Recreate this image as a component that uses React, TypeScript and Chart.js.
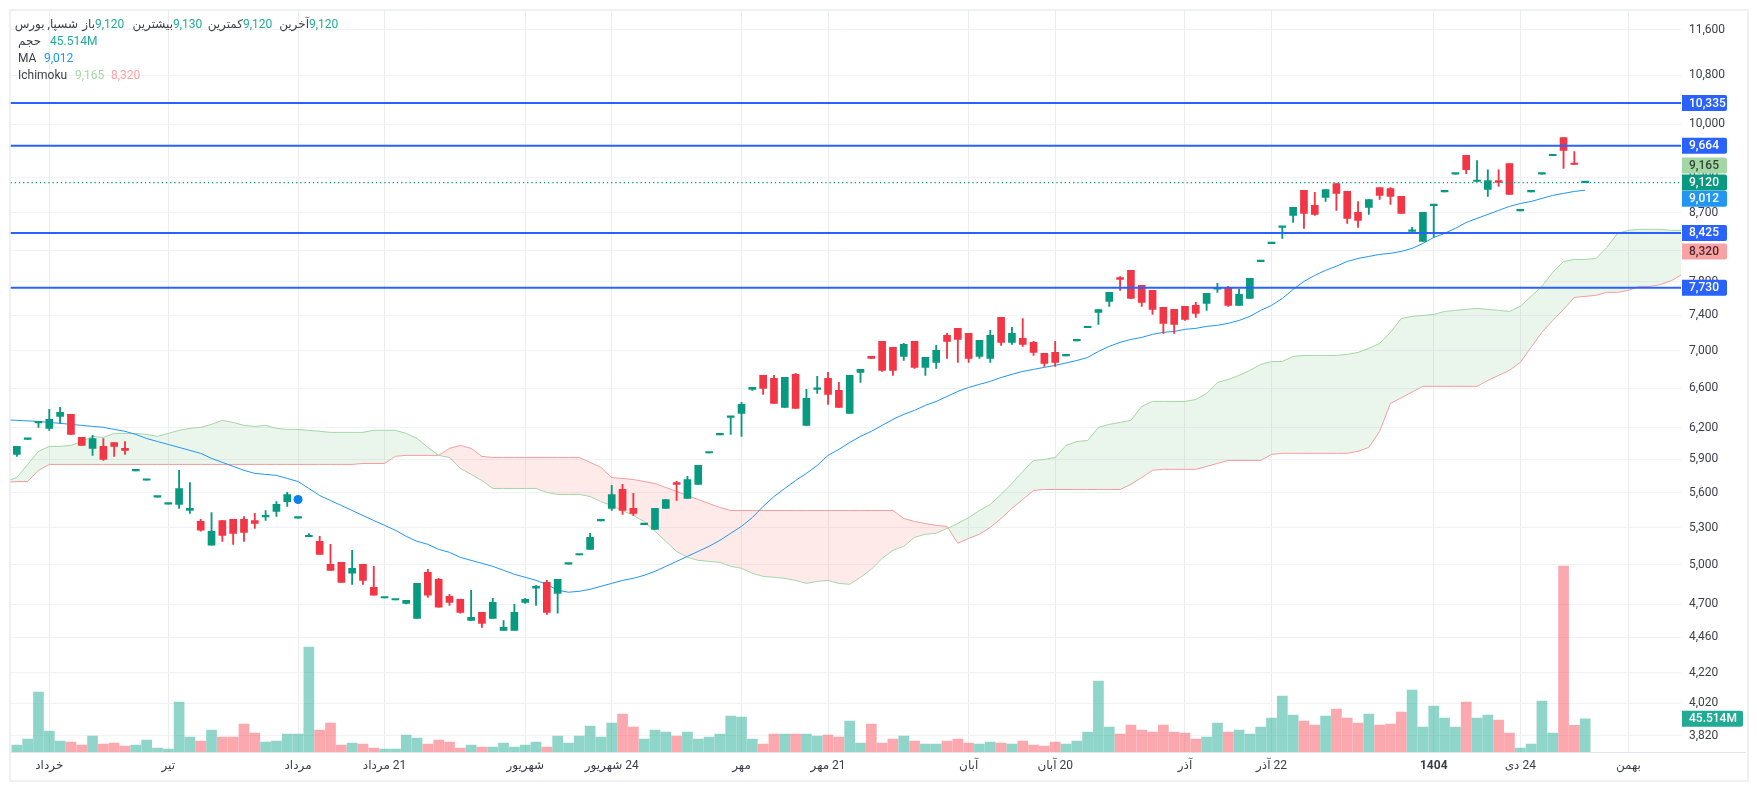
import { useEffect, useRef } from "react";
import Chart from "chart.js/auto";

const opens = [5947,6090,6250,6196,6314,6334,6108,6004,6023,6060,6004,5795,5710,5560,5500,5497,5446,5352,5155,5360,5369,5369,5360,5390,5437,5522,5380,5225,5187,5003,5018,4933,5003,4825,4745,4730,4705,4595,4940,4886,4757,4735,4580,4639,4595,4509,4509,4712,4818,4863,4780,5005,5077,5122,5357,5463,5629,5463,5325,5286,5463,5690,5549,5673,5960,6132,6304,6344,6588,6734,6702,6404,6745,6225,6588,6702,6578,6344,6766,6938,7104,7038,6938,7104,6820,6873,7172,7251,7195,6938,6916,7377,7093,7138,7093,6971,6982,6945,7110,7258,7435,7565,7855,7944,7758,7698,7494,7471,7506,7518,7542,7712,7734,7518,7601,8053,8285,8500,8661,9008,8798,8910,9107,8994,8703,8771,9050,9036,8924,8446,8313,8795,8988,9243,9518,9136,9023,9150,9398,8723,8988,9243,9513,9790,9395,9120];
const highs = [6023,6095,6264,6384,6404,6334,6108,6128,6098,6060,6069,5800,5715,5565,5505,5800,5690,5369,5428,5360,5369,5394,5420,5445,5522,5602,5385,5250,5228,5163,5018,5114,5003,4987,4750,4735,4727,4855,4964,4894,4772,4735,4802,4639,4742,4580,4697,4742,4840,4878,4886,5010,5082,5253,5362,5664,5673,5593,5330,5463,5540,5700,5745,5845,5965,6137,6314,6454,6608,6734,6734,6713,6755,6588,6723,6766,6660,6734,6798,6938,7104,7038,7082,7104,6927,7060,7195,7251,7195,7115,7229,7377,7263,7365,7104,6971,7104,6950,7115,7263,7470,7673,7868,7944,7758,7698,7494,7471,7506,7553,7662,7783,7746,7710,7844,8058,8290,8513,8771,9008,8980,9022,9107,8994,8853,8881,9050,9050,8924,8500,8703,8808,8993,9248,9518,9443,9306,9306,9398,8728,8993,9248,9518,9790,9577,9130];
const lows = [5929,6090,6206,6177,6245,6137,6032,5938,5891,5929,5947,5795,5710,5560,5500,5463,5420,5270,5155,5187,5163,5187,5294,5360,5394,5480,5380,5225,5082,4956,4863,4848,4848,4765,4745,4730,4700,4595,4750,4676,4690,4632,4580,4530,4595,4509,4509,4705,4690,4624,4632,5005,5077,5122,5357,5446,5411,5403,5325,5286,5463,5531,5549,5673,5960,6132,6137,6118,6578,6536,6444,6404,6394,6225,6546,6434,6404,6344,6660,6916,6777,6734,6894,6809,6734,6809,6916,6873,6873,6916,6873,7060,7071,7049,6949,6830,6830,6945,7110,7258,7297,7506,7698,7601,7506,7412,7195,7195,7342,7377,7459,7674,7506,7518,7601,8053,8285,8353,8566,8486,8661,8853,8730,8553,8500,8675,8881,8812,8689,8446,8313,8370,8988,9243,9250,9136,8924,9065,8952,8723,8988,9243,9513,9325,9384,9120];
const closes = [6023,6095,6264,6284,6354,6137,6032,6098,5900,6023,5985,5800,5715,5565,5505,5637,5463,5278,5270,5236,5253,5261,5335,5395,5497,5584,5385,5228,5082,4956,4863,4972,4878,4765,4750,4735,4727,4855,4765,4676,4712,4639,4602,4559,4712,4530,4639,4735,4833,4639,4886,5010,5082,5220,5362,5584,5446,5420,5330,5463,5540,5673,5717,5845,5965,6137,6314,6434,6608,6598,6444,6713,6394,6495,6598,6536,6404,6734,6798,6916,6788,6788,7071,6820,6927,7005,7104,7126,6916,7115,7172,7093,7195,7071,6982,6862,6873,6950,7115,7263,7470,7673,7832,7601,7553,7471,7308,7297,7354,7424,7662,7718,7518,7650,7844,8058,8290,8513,8771,8689,8675,9022,8966,8620,8593,8881,8938,8924,8689,8464,8703,8808,8993,9248,9306,9150,9150,9122,8952,8728,8993,9248,9518,9595,9384,9120];

// millions of shares
const volumes = [9.6,17.8,82,28.7,15,13.7,9.6,21.9,10.9,12.3,8.2,9.6,16.4,5.5,4.1,68.4,20.5,15,30,20.5,20.5,38.3,26,13.7,15,24.6,24.6,143.5,30,39.6,9.6,12.3,10.9,5.5,4.1,4.1,23.2,19.1,10.9,16.4,13.7,5.5,9.6,6.8,6.8,12.3,6.8,9.6,13.7,6.8,21.9,12.3,21.9,35.5,20.5,39.6,52,34,17.8,30,27.3,21.9,27.3,17.8,20.5,24.6,49.2,47.8,17.8,10.9,24.6,24.6,24.6,24.6,21.9,23.2,20.5,42.4,12.3,38.3,12.3,17.8,21.9,15,10.9,10.9,15,17.8,12.3,10.9,13.7,12.3,10.9,15,9.6,8.2,13.7,10.9,15,27.3,97,34.2,24.6,36.9,30,27.3,36.9,27.3,26,17.8,20.5,39.6,27.3,30,24.6,34.2,46.5,76.6,50.6,42.4,36.9,49.2,58.8,46.5,39.6,52,36.9,38.3,54.7,84.8,34.2,62.9,46.5,34.2,68.4,46.5,50.6,43.7,26,5.5,10.9,69.7,26,254,36.5,45.514];

// these three start one bar left of the first candle
const maValues = [6280,6274,6269,6264,6254,6245,6235,6225,6215,6206,6186,6167,6137,6098,6069,6041,6013,5985,5957,5910,5873,5836,5800,5772,5763,5754,5726,5699,5637,5575,5531,5488,5445,5402,5360,5319,5278,5228,5187,5163,5122,5098,5058,5034,5011,4987,4956,4925,4902,4878,4848,4803,4788,4795,4810,4833,4855,4878,4894,4917,4948,4987,5026,5066,5106,5147,5195,5253,5311,5385,5480,5566,5637,5708,5772,5845,5938,5994,6060,6118,6167,6225,6284,6334,6374,6424,6464,6515,6567,6608,6640,6671,6712,6745,6777,6798,6820,6841,6867,6894,6927,6993,7049,7093,7126,7149,7183,7206,7217,7240,7251,7274,7286,7309,7342,7389,7459,7518,7601,7710,7807,7882,7944,7995,8056,8094,8120,8146,8159,8185,8223,8288,8366,8420,8486,8566,8620,8675,8730,8785,8825,8853,8895,8938,8966,8994,9012];
const spanA = [5700,5735,5854,5976,6023,6023,6032,6069,6118,6108,6147,6147,6147,6137,6118,6147,6177,6196,6206,6235,6274,6254,6225,6215,6225,6196,6186,6186,6177,6167,6157,6157,6157,6157,6177,6177,6177,6147,6098,6013,5938,5919,5818,5763,5708,5637,5637,5637,5637,5637,5602,5584,5584,5584,5566,5522,5488,5445,5402,5352,5270,5187,5106,5058,5034,5026,5018,4987,4972,4933,4909,4902,4894,4878,4855,4870,4878,4855,4848,4902,4964,5050,5114,5147,5220,5245,5253,5294,5335,5385,5445,5497,5584,5681,5790,5891,5900,5919,6032,6069,6079,6206,6235,6254,6274,6414,6464,6464,6464,6464,6484,6546,6660,6691,6734,6788,6851,6883,6883,6938,6949,6949,6949,6949,6960,6982,7027,7082,7206,7365,7389,7400,7412,7447,7459,7471,7482,7471,7459,7447,7506,7625,7746,7920,8056,8082,8082,8094,8236,8420,8460,8473,8473,8473,8460,8460];
const spanB = [5690,5699,5699,5800,5854,5854,5854,5854,5854,5854,5854,5854,5854,5854,5854,5854,5854,5854,5854,5854,5854,5854,5854,5854,5854,5854,5854,5854,5854,5854,5854,5854,5854,5863,5863,5863,5929,5938,5938,5938,5938,6004,6032,6004,5929,5919,5919,5919,5919,5919,5919,5919,5919,5919,5873,5827,5735,5726,5717,5699,5681,5646,5611,5575,5540,5505,5471,5445,5445,5445,5445,5445,5445,5445,5445,5445,5445,5445,5445,5445,5445,5445,5445,5377,5352,5335,5319,5311,5171,5211,5245,5302,5377,5463,5540,5619,5628,5628,5628,5628,5628,5628,5628,5628,5673,5735,5800,5809,5809,5809,5809,5836,5863,5891,5891,5891,5891,5947,5957,5957,5957,5957,5957,5957,5957,5976,6013,6167,6444,6500,6560,6619,6619,6619,6619,6619,6619,6681,6734,6788,6873,7038,7206,7342,7471,7613,7625,7638,7674,7674,7698,7746,7746,7770,7819,7895];

const levels = [10335, 9664, 8425, 7730];
const lastPrice = 9120;
const dotBar = 26;
const dotPrice = 5540;

const yTickValues = [11600,10800,10000,9200,8700,8200,7800,7400,7000,6600,6200,5900,5600,5300,5000,4700,4460,4220,4020,3820];
const xTickBars = [3,14,26,34,47,55,67,75,88,96,108,116,131,139,149];
const xTickNames = ["خرداد","تیر","مرداد","\u200F21 مرداد","شهریور","\u200F24 شهریور","مهر","\u200F21 مهر","آبان","\u200F20 آبان","آذر","\u200F22 آذر","1404","\u200F24 دی","بهمن"];

const GREEN = "#089981";
const RED = "#f23645";
const BLUE = "#2962ff";
const MA_BLUE = "#2196f3";
const FONT = "Roboto, 'DejaVu Sans', sans-serif";
const X_MIN = -0.587;
const X_MAX = 153.86;
const Y_MIN = 3724;
const Y_MAX = 11946;

const tags = [
  { text: "7,730", value: 7730, axis: "y", shift: 0, bg: BLUE, fg: "#fff" },
  { text: "8,320", value: 8320, axis: "y", shift: 10.5, bg: "#faa1a4", fg: "#4a2a2c" },
  { text: "8,425", value: 8425, axis: "y", shift: 0, bg: BLUE, fg: "#fff" },
  { text: "9,012", value: 9012, axis: "y", shift: 8.5, bg: MA_BLUE, fg: "#fff" },
  { text: "9,165", value: 9165, axis: "y", shift: -14, bg: "#a5d6a7", fg: "#2f4a30" },
  { text: "9,120", value: 9120, axis: "y", shift: 0, bg: GREEN, fg: "#fff" },
  { text: "9,664", value: 9664, axis: "y", shift: 0, bg: BLUE, fg: "#fff" },
  { text: "10,335", value: 10335, axis: "y", shift: 0, bg: BLUE, fg: "#fff" },
  { text: "45.514M", value: 45.514, axis: "v", shift: 0, bg: "#22ab94", fg: "#fff" },
];

const tagPlugin = {
  id: "priceTags",
  afterDraw(chart: any) {
    const { ctx, chartArea, scales } = chart;
    ctx.save();
    ctx.strokeStyle = "#e0e3eb";
    ctx.lineWidth = 1;
    ctx.beginPath();
    ctx.moveTo(chartArea.left, chartArea.bottom + 0.5);
    ctx.lineTo(1746, chartArea.bottom + 0.5);
    ctx.stroke();

    ctx.font = "500 12px " + FONT;
    ctx.textBaseline = "middle";
    ctx.textAlign = "left";
    tags.forEach((t) => {
      const y = scales[t.axis].getPixelForValue(t.value) + t.shift;
      const w = t.axis === "v" ? 61 : 45;
      ctx.fillStyle = t.bg;
      ctx.beginPath();
      ctx.roundRect(chartArea.right + 1, y - 8, w, 16, [0, 2, 2, 0]);
      ctx.fill();
      ctx.fillStyle = t.fg;
      ctx.fillText(t.text, chartArea.right + 8, y + 0.5);
    });
    ctx.restore();
  },
};

function PriceChart() {
  const canvasRef = useRef<HTMLCanvasElement>(null);

  useEffect(() => {
    if (!canvasRef.current) return;
    const isUp = (i: number) => closes[i] >= opens[i];
    const candleColor = (i: number) => (isUp(i) ? GREEN : RED);

    const chart = new Chart(canvasRef.current, {
      type: "bar",
      data: {
        datasets: [
          {
            type: "line",
            data: [{ x: dotBar, y: dotPrice }],
            showLine: false,
            pointRadius: 4.5,
            pointBackgroundColor: "#0b80ea",
            pointBorderWidth: 0,
            order: 0,
          },
          ...levels.map((level) => ({
            type: "line",
            data: [
              { x: X_MIN, y: level },
              { x: X_MAX, y: level },
            ],
            borderColor: BLUE,
            borderWidth: 2,
            pointRadius: 0,
            order: 1,
          })),
          {
            type: "line",
            data: [
              { x: X_MIN, y: lastPrice },
              { x: X_MAX, y: lastPrice },
            ],
            borderColor: GREEN,
            borderWidth: 1.3,
            borderDash: [1.3, 2.9],
            pointRadius: 0,
            order: 1,
          },
          {
            data: opens.map((o, i) => ({ x: i, y: [o, closes[i]] })),
            backgroundColor: opens.map((_, i) => candleColor(i)),
            grouped: false,
            barPercentage: 1,
            categoryPercentage: 1,
            maxBarThickness: 7,
            minBarLength: 1.5,
            order: 2,
          },
          {
            data: opens.map((_, i) => ({ x: i, y: [lows[i], highs[i]] })),
            backgroundColor: opens.map((_, i) => candleColor(i)),
            grouped: false,
            barPercentage: 1,
            categoryPercentage: 1,
            maxBarThickness: 1.2,
            order: 3,
          },
          {
            type: "line",
            data: maValues.map((y, i) => ({ x: i - 1, y })),
            borderColor: MA_BLUE,
            borderWidth: 1,
            pointRadius: 0,
            order: 4,
          },
          {
            type: "line",
            data: spanA.map((y, i) => ({ x: i - 1, y })),
            borderColor: "#a5d6a7",
            borderWidth: 1,
            pointRadius: 0,
            fill: {
              target: "+1",
              above: "rgba(67,160,71,0.11)",
              below: "rgba(244,67,54,0.11)",
            },
            order: 5,
          },
          {
            type: "line",
            data: spanB.map((y, i) => ({ x: i - 1, y })),
            borderColor: "#faa1a4",
            borderWidth: 1,
            pointRadius: 0,
            order: 5,
          },
          {
            data: volumes.map((y, i) => ({ x: i, y })),
            backgroundColor: volumes.map((_, i) =>
              isUp(i) ? "rgba(34,171,148,0.5)" : "rgba(247,82,95,0.5)"
            ),
            yAxisID: "v",
            grouped: false,
            barPercentage: 1,
            categoryPercentage: 1,
            maxBarThickness: 10,
            order: 6,
          },
        ] as any,
      },
      options: {
        responsive: false,
        animation: false,
        events: [],
        layout: { padding: { left: 10.5, top: 11, right: 10, bottom: 11 } },
        plugins: { legend: { display: false }, tooltip: { enabled: false } },
        scales: {
          x: {
            type: "linear",
            min: X_MIN,
            max: X_MAX,
            offset: false,
            afterFit: (scale: any) => {
              scale.height = 27;
            },
            afterBuildTicks: (scale: any) => {
              scale.ticks = xTickBars.map((value) => ({ value }));
            },
            grid: { color: "#ecedf0", offset: false, drawTicks: false },
            border: { display: false },
            ticks: {
              autoSkip: false,
              maxRotation: 0,
              padding: 7,
              color: "#3c3f49",
              font: (ctx: any) => ({
                family: FONT,
                size: 12,
                weight: ctx.tick && ctx.tick.value === 131 ? "bold" : "normal",
              }),
              callback: (value: any) => xTickNames[xTickBars.indexOf(value)],
            },
          },
          y: {
            type: "logarithmic",
            position: "right",
            min: Y_MIN,
            max: Y_MAX,
            afterFit: (scale: any) => {
              // the label half-heights would otherwise push the plot top down
              scale.width = 66;
              scale.paddingTop = 0;
              scale.paddingBottom = 0;
            },
            afterBuildTicks: (scale: any) => {
              scale.ticks = yTickValues.map((value) => ({ value }));
            },
            grid: { color: "#f1f2f5", drawTicks: false },
            border: { display: false },
            ticks: {
              autoSkip: false,
              padding: 8,
              color: "#3c3f49",
              font: { family: FONT, size: 12 },
              callback: (value: any) => Number(value).toLocaleString("en-US"),
            },
          },
          v: {
            type: "linear",
            display: false,
            min: 0,
            max: 1013,
          },
        },
      } as any,
      plugins: [tagPlugin],
    });

    return () => {
      chart.destroy();
    };
  }, []);

  return (
    <canvas
      ref={canvasRef}
      width={1757}
      height={790}
      style={{ position: "absolute", left: 0, top: 0, display: "block" }}
    />
  );
}

const textStyle = { position: "absolute", whiteSpace: "nowrap", lineHeight: "17px" } as const;
const DARK = "#3c3f49";
const VALUE_GREEN = "#22ab94";

function Text({ x, y, color, text, end }: any) {
  const side = end ? { right: 1757 - x } : { left: x };
  return <span style={{ ...textStyle, ...side, top: y, color }}>{text}</span>;
}

export default function App() {
  return (
    <div
      style={{
        position: "absolute",
        left: 0,
        top: 0,
        width: 1757,
        height: 790,
        background: "#fff",
        overflow: "hidden",
        fontFamily: FONT,
        fontSize: 12,
      }}
    >
      <div
        style={{
          position: "absolute",
          left: 9,
          top: 9,
          width: 1736,
          height: 769,
          border: "2px solid #eff0f4",
        }}
      />
      <PriceChart />
      <span dir="rtl" style={{ ...textStyle, left: 18, top: 16, color: DARK, width: 60, textAlign: "right" }}>
        شسپا, بورس
      </span>
      <Text x={95} y={16} end color={DARK} text="باز" />
      <Text x={95} y={16} color={VALUE_GREEN} text="9,120" />
      <Text x={173} y={16} end color={DARK} text="بیشترین" />
      <Text x={173} y={16} color={VALUE_GREEN} text="9,130" />
      <Text x={243} y={16} end color={DARK} text="کمترین" />
      <Text x={243} y={16} color={VALUE_GREEN} text="9,120" />
      <Text x={309} y={16} end color={DARK} text="آخرین" />
      <Text x={309} y={16} color={VALUE_GREEN} text="9,120" />
      <Text x={18} y={33} color={DARK} text="حجم" />
      <Text x={50} y={33} color={VALUE_GREEN} text="45.514M" />
      <Text x={18} y={50} color={DARK} text="MA" />
      <Text x={44} y={50} color={MA_BLUE} text="9,012" />
      <Text x={18} y={67} color={DARK} text="Ichimoku" />
      <Text x={75} y={67} color="#a5d6a7" text="9,165" />
      <Text x={111} y={67} color="#faa1a4" text="8,320" />
    </div>
  );
}
